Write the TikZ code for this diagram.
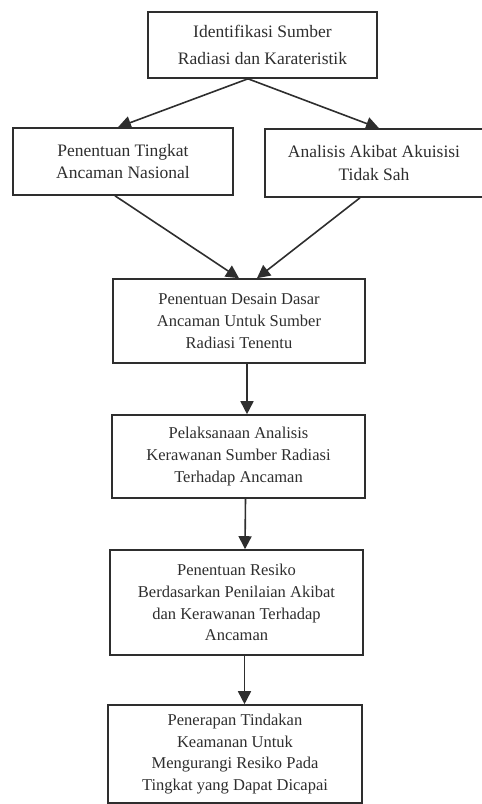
\documentclass[tikz,border=0pt]{standalone}
\usepackage{fontspec}
\setmainfont{Liberation Serif}
\usetikzlibrary{arrows.meta}
\definecolor{ink}{gray}{0.18}
\tikzset{
->, % all connectors are directed
>={Triangle[length=13pt, width=13pt]}, % filled triangle heads
link/.style={draw=ink, line width=1.6pt}, % connector lines
box/.style={draw=ink, line width=1.6pt, text=ink, align=center, inner sep=0pt}, % every step box
bigtext/.style={font=\fontsize{17.5}{27}\selectfont},
midtext/.style={font=\fontsize{17.5}{22.5}\selectfont},
smalltext/.style={font=\fontsize{16.5}{21.7}\selectfont},
}

\begin{document}
\begin{tikzpicture}[x=1pt, y=-1pt]
    \useasboundingbox (0,0) rectangle (482,804);
    \node[box, bigtext, minimum width=229pt, minimum height=66pt] (ident) at (262.5,45) {Identifikasi Sumber\\Radiasi dan Karateristik};
    \node[box, midtext, minimum width=220pt, minimum height=67pt] (tingkat) at (123,161.5) {Penentuan Tingkat\\Ancaman Nasional};
    \node[box, midtext, minimum width=218pt, minimum height=68pt] (akibat) at (374,163) {Analisis Akibat Akuisisi\\Tidak Sah};
    \node[box, smalltext, minimum width=252pt, minimum height=84pt] (desain) at (239,321) {Penentuan Desain Dasar\\Ancaman Untuk Sumber\\Radiasi Tenentu};
    \node[box, smalltext, minimum width=253pt, minimum height=83pt] (rawan) at (238.5,456.5) {Pelaksanaan Analisis\\Kerawanan Sumber Radiasi\\Terhadap Ancaman};
    \node[box, smalltext, minimum width=253pt, minimum height=105pt] (resiko) at (236.5,602.5) {Penentuan Resiko\\Berdasarkan Penilaian Akibat\\dan Kerawanan Terhadap\\Ancaman};
    \node[box, smalltext, minimum width=254pt, minimum height=98pt] (tindakan) at (235,754) {Penerapan Tindakan\\Keamanan Untuk\\Mengurangi Resiko Pada\\Tingkat yang Dapat Dicapai};
    \draw[link] ([xshift=-14.5pt]ident.south) -- ([xshift=-5pt]tingkat.north);
    \draw[link] ([xshift=-14.5pt]ident.south) -- ([xshift=5pt]akibat.north);
    \draw[link] ([xshift=-8pt]tingkat.south) -- ([xshift=0pt]desain.north);
    \draw[link] ([xshift=-14pt]akibat.south) -- ([xshift=18pt]desain.north);
    \draw[link] ([xshift=8pt]desain.south) -- ([xshift=8.5pt]rawan.north);
    \draw[link] ([xshift=7pt]rawan.south) -- ([xshift=8.5pt]resiko.north);
    \draw[link] ([xshift=8pt]resiko.south) -- ([xshift=9.5pt]tindakan.north);
  \end{tikzpicture}
\end{document}
